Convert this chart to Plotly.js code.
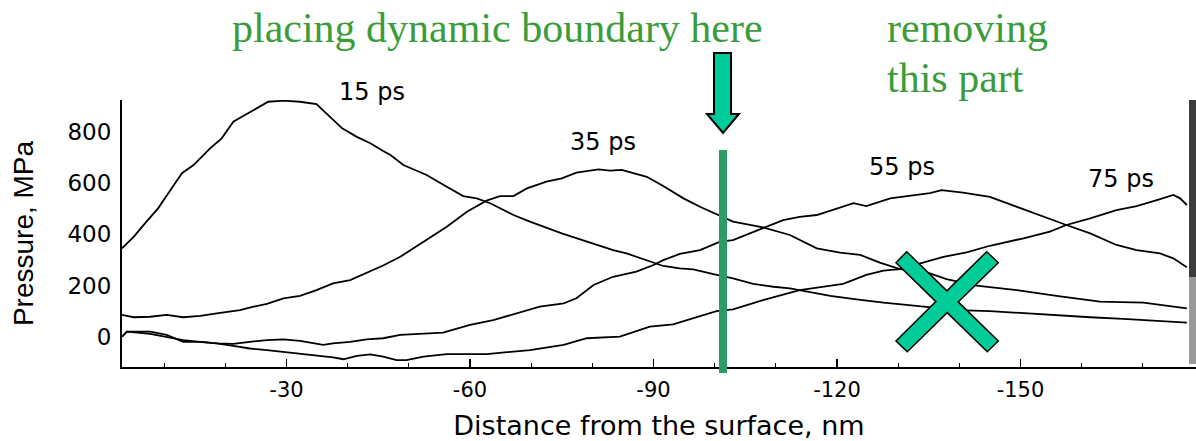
<!DOCTYPE html>
<html>
<head>
<meta charset="utf-8">
<script src="https://cdn.plot.ly/plotly-3.0.1.min.js"></script>
<style>html,body{margin:0;padding:0;background:#fff;}#chart{width:1196px;height:441px;}</style>
</head>
<body>
<div id="chart"></div>
<script>
// ---- data (distance in nm, pressure in MPa) ----
const x15 = [-3.1,-5.0,-7.1,-9.0,-11.0,-12.9,-14.8,-17.5,-19.4,-21.3,-23.2,-25.1,-27.0,-29.5,-32.2,-34.9,-37.1,-39.1,-41.5,-43.7,-45.8,-47.0,-49.1,-52.9,-56.2,-58.9,-61.1,-63.3,-67.1,-69.8,-75.0,-80.2,-83.4,-85.6,-88.9,-91.6,-94.3,-96.5,-99.8,-103.0,-106.3,-109.6,-112.3,-118.9,-123.2,-127.6,-133.0,-136.8,-139.6,-145.0,-150.5,-155.9,-161.4,-166.8,-172.3,-177.2];
const y15 = [345,390,449,501,572,638,670,735,774,839,865,891,917,921,917,908,859,813,780,755,725,709,670,631,585,549,540,521,475,449,403,364,338,325,299,276,267,263,244,228,206,195,189,159,146,133,120,111,104,100,91,85,76,70,63,55];

const x35 = [-3.1,-5.0,-7.7,-10.4,-13.1,-15.9,-18.6,-22.4,-24.6,-26.8,-29.5,-32.2,-34.9,-37.6,-40.4,-43.1,-45.8,-48.6,-52.4,-56.2,-59.5,-62.7,-64.9,-67.1,-69.3,-72.5,-75.0,-77.4,-81.0,-82.9,-84.8,-88.9,-91.6,-94.9,-97.6,-100.9,-103.0,-107.9,-112.3,-116.7,-120.5,-123.8,-127.0,-130.3,-135.2,-137.9,-142.8,-149.4,-155.9,-163.0,-170.1,-177.2];
const y35 = [85,76,78,85,76,81,91,104,117,128,150,159,182,208,221,250,278,312,371,429,488,531,549,549,579,605,618,640,653,648,651,624,588,540,507,471,449,427,397,345,328,319,289,264,247,225,199,182,159,137,133,111];

const x55 = [-3.1,-3.9,-7.7,-10.4,-13.1,-15.9,-18.6,-21.3,-24.0,-26.8,-29.5,-32.2,-36.0,-37.6,-40.4,-43.1,-45.8,-48.6,-55.6,-60.0,-63.8,-67.6,-71.4,-75.3,-77.4,-80.2,-83.4,-87.2,-90.0,-91.6,-94.3,-97.6,-100.9,-103.0,-107.9,-111.2,-113.9,-116.7,-122.7,-124.8,-128.7,-135.2,-137.1,-140.6,-145.0,-149.4,-153.7,-157.5,-161.4,-165.7,-169.0,-172.8,-175.0,-177.2];
const y55 = [0,20,20,7,-20,-20,-26,-28,-20,-13,-10,-16,-32,-26,-20,-10,-6,7,16,46,65,91,117,130,150,202,234,254,280,299,323,338,371,377,423,455,468,475,521,510,540,560,572,562,546,507,468,436,403,358,338,325,306,271];

const x75 = [-3.1,-3.9,-7.7,-10.4,-13.1,-15.9,-18.6,-21.3,-24.0,-26.8,-29.5,-32.2,-34.9,-37.6,-39.3,-41.5,-43.7,-45.8,-48.0,-49.6,-52.4,-56.2,-62.7,-69.8,-75.3,-79.1,-84.5,-89.4,-93.2,-97.1,-100.3,-103.0,-107.9,-113.9,-117.8,-121.0,-124.8,-127.6,-130.3,-134.1,-137.4,-141.2,-145.0,-150.5,-154.8,-157.5,-161.4,-165.7,-169.0,-172.3,-175.0,-176.1,-177.2];
const y75 = [0,20,11,0,-13,-20,-26,-36,-46,-52,-59,-65,-72,-81,-88,-75,-69,-78,-91,-91,-78,-68,-68,-52,-32,-6,0,39,48,78,100,107,143,182,195,206,241,258,264,289,312,329,355,384,410,436,462,494,510,533,553,540,514];

const seriesNames = ['15 ps','35 ps','55 ps','75 ps'];
const xTickVals = [-30,-60,-90,-120,-150];
const xTickText = ['-30','-60','-90','-120','-150'];
const yTickVals = [0,200,400,600,800];
const yTickText = ['0','200','400','600','800'];

// ---- layout helpers (pixel -> paper) ----
const W = 1196, H = 441, ML = 122, MR = 0, MT = 100, MB = 74;
const PW = W - ML - MR, PH = H - MT - MB;
const px = v => (v - ML) / PW;
const py = v => (H - MB - v) / PH;
const pathOf = pts => 'M ' + pts.map(p => px(p[0]).toFixed(5) + ',' + py(p[1]).toFixed(5)).join(' L ') + ' Z';

const lineStyle = {color: '#000', width: 1.8};
const xs = [x15, x35, x55, x75], ys = [y15, y35, y55, y75];
const traces = xs.map((xv, i) => ({
  type: 'scatter', mode: 'lines', x: xv, y: ys[i], name: seriesNames[i],
  line: lineStyle, hoverinfo: 'skip', showlegend: false
}));

const green = '#3c9c3c';
const teal = '#00cc99';
const curveFont = {family: 'DejaVu Sans, Arial, sans-serif', size: 24, color: '#000'};
const serif = {family: 'Liberation Serif, Times New Roman, serif', size: 42, color: green};

const annotations = [
  {text: seriesNames[0], x: px(372), y: py(92)},
  {text: seriesNames[1], x: px(603), y: py(142)},
  {text: seriesNames[2], x: px(902), y: py(167)},
  {text: seriesNames[3], x: px(1121), y: py(179)}
].map(a => Object.assign(a, {xref: 'paper', yref: 'paper', showarrow: false, xanchor: 'center', yanchor: 'middle', font: curveFont}));

annotations.push(
  {text: 'placing dynamic boundary here', x: px(230), y: py(28), xref: 'paper', yref: 'paper', showarrow: false, xanchor: 'left', yanchor: 'middle', font: serif},
  {text: 'removing', x: px(885), y: py(28), xref: 'paper', yref: 'paper', showarrow: false, xanchor: 'left', yanchor: 'middle', font: serif},
  {text: 'this part', x: px(885), y: py(78), xref: 'paper', yref: 'paper', showarrow: false, xanchor: 'left', yanchor: 'middle', font: serif}
);

const shapes = [
  // green boundary line
  {type: 'rect', xref: 'paper', yref: 'paper', x0: px(719), x1: px(727), y0: py(373), y1: py(150), fillcolor: '#2e9b66', line: {width: 0}},
  // arrow
  {type: 'path', xref: 'paper', yref: 'paper', path: pathOf([[714,53],[731,53],[731,114],[739,114],[723,133],[707,114],[714,114]]), fillcolor: teal, line: {color: '#000', width: 2}},
  // X mark
  {type: 'path', xref: 'paper', yref: 'paper', path: pathOf([[896,262.7],[906.7,251.7],[946.9,290.9],[986.7,251.7],[998.3,262.7],[958.2,301.9],[998.3,341],[987.3,351.7],[947.2,312.6],[907.3,351.7],[896,341],[935.9,301.6]]), fillcolor: teal, line: {color: '#000', width: 1.5}},
  // scanned edge bar on right
  {type: 'rect', xref: 'paper', yref: 'paper', x0: px(1189), x1: px(1196), y0: py(277), y1: py(100), fillcolor: '#3c3c3c', line: {width: 0}},
  {type: 'rect', xref: 'paper', yref: 'paper', x0: px(1189), x1: px(1196), y0: py(364), y1: py(277), fillcolor: '#9a9a9a', line: {width: 0}}
];

const layout = {
  width: W, height: H,
  margin: {l: ML, r: MR, t: MT, b: MB, pad: 0},
  paper_bgcolor: '#fff', plot_bgcolor: '#fff',
  showlegend: false,
  font: {family: 'DejaVu Sans, Arial, sans-serif', color: '#000'},
  xaxis: {
    range: [-3.1, -178.7], showgrid: false, zeroline: false,
    showline: true, linecolor: '#000', linewidth: 2,
    tickmode: 'array', tickvals: xTickVals, ticktext: xTickText,
    ticks: 'inside', ticklen: 8, tickwidth: 1.5, tickcolor: '#000',
    minor: {dtick: 10, tick0: 0, ticks: 'inside', ticklen: 4, tickwidth: 1, tickcolor: '#000', showgrid: false},
    tickfont: {family: 'DejaVu Sans, Arial, sans-serif', size: 21, color: '#000'},
    ticklabelstandoff: 3,
    title: {text: 'Distance from the surface, nm', font: {family: 'DejaVu Sans, Arial, sans-serif', size: 27, color: '#000'}, standoff: 15}
  },
  yaxis: {
    range: [-118.2, 923.8], showgrid: false, zeroline: false,
    showline: true, linecolor: '#000', linewidth: 2,
    tickmode: 'array', tickvals: yTickVals, ticktext: yTickText,
    ticks: '', tickfont: {family: 'DejaVu Sans, Arial, sans-serif', size: 23, color: '#000'},
    ticklabelstandoff: 4,
    title: {text: 'Pressure, MPa', font: {family: 'Liberation Sans, Arial, sans-serif', size: 28, color: '#000'}, standoff: 26}
  },
  annotations: annotations,
  shapes: shapes
};

Plotly.newPlot('chart', traces, layout, {staticPlot: true, displayModeBar: false});
</script>
</body>
</html>
